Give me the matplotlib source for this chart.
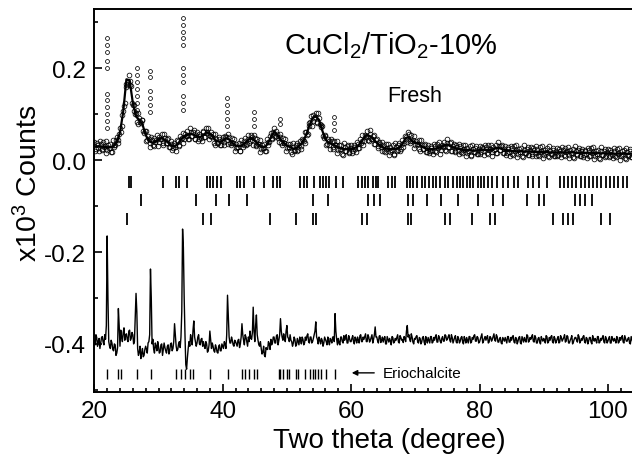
import numpy as np
import matplotlib
matplotlib.use("Agg")
import matplotlib.pyplot as plt
from matplotlib.ticker import MultipleLocator, FixedLocator

plt.rcParams['font.family'] = ['Liberation Sans', 'DejaVu Sans']
plt.rcParams['mathtext.fontset'] = 'custom'
plt.rcParams['mathtext.rm'] = 'Liberation Sans'
plt.rcParams['mathtext.it'] = 'Liberation Sans'
plt.rcParams['mathtext.default'] = 'regular'
plt.rcParams['axes.unicode_minus'] = False

# ---------------- data (values in thousandths of the y-axis unit) ----------------
# observed points, scan A: 0.25 degree steps from 20.000
obs_a = [
    39,25,33,19, 36,22,29,41, 22,26,36,17, 34,32,50,43, 69,75,108,124,
    166,170,172,162, 119,106,103,78, 92,81,88,59, 64,43,45,29, 44,31,40,54,
    39,45,56,34, 48,38,48,28, 41,26,33,21, 41,32,45,60, 46,52,63,45,
    62,53,65,46, 61,46,53,41, 61,50,60,71, 52,52,58,34, 46,38,50,34,
    51,40,51,36, 51,33,38,47, 26,29,38,19, 36,32,48,35, 54,42,51,34,
    48,30,35,44, 24,27,36,19, 39,39,60,49, 71,53,58,39, 51,33,38,47,
    26,28,36,14, 29,23,37,23, 41,31,43,37, 61,57,75,96, 86,92,103,80,
    92,73,75,48, 54,36,41,25, 41,25,32,42, 22,24,33,12, 28,21,34,17,
    33,20,29,17, 36,26,38,55, 42,50,63,42, 56,45,55,35, 47,30,35,19,
    33,18,25,36, 18,22,32,12, 29,23,38,24, 44,37,51,39, 56,38,42,52,
    32,35,44,21, 34,25,36,18, 33,19,27,13, 31,17,26,39, 22,28,40,21,
    38,29,40,21, 36,21,28,13, 30,15,22,34, 16,20,30,9, 25,18,31,14,
    31,17,26,11, 28,14,22,34, 17,22,34,15, 31,22,34,16, 31,16,24,9,
    26,12,20,32, 13,17,27,7, 23,16,29,12, 28,14,22,8, 24,10,18,30,
    12,16,26,6, 21,14,27,10, 26,12,20,6, 23,9,17,29, 11,15,25,5,
    20,13,26,9, 25,11,19,5, 22,8,16,28, 9,13,23,3, 19,12,25,8,
    24,10,18,4, 20,6,14,26, 8,12,22,2, 18,11,24,7,
]
# observed points, scan B: 0.25 degree steps from 20.125
obs_b = [
    21,37,27,41, 24,40,31,16, 33,27,18,43, 28,43,37,58, 61,99,117,159,
    163,185,163,125, 121,100,82,102, 82,87,64,63, 42,52,38,50, 32,49,43,30,
    51,46,37,58, 38,45,28,36, 22,37,28,44, 31,52,48,37, 58,53,46,70,
    53,61,46,55, 42,57,48,64, 50,69,61,45, 61,51,38,57, 37,46,32,44,
    34,53,44,57, 37,49,38,20, 36,29,20,44, 29,42,32,46, 37,54,43,54,
    34,46,35,18, 34,27,19,46, 34,52,45,62, 51,63,49,58, 37,49,38,20,
    36,28,17,38, 21,32,20,34, 25,45,41,62, 54,80,82,75, 98,93,83,103,
    78,76,52,53, 34,46,34,46, 28,42,33,16, 32,24,14,37, 20,30,16,27,
    15,32,24,40, 26,46,42,32, 55,52,44,66, 46,52,35,43, 27,40,28,39,
    20,35,26,11, 29,23,14,37, 21,33,21,36, 29,52,46,61, 42,54,43,26,
    42,35,24,44, 25,33,17,27, 15,31,21,35, 19,35,28,14, 34,30,22,46,
    29,37,21,30, 17,32,21,35, 17,32,24,9, 27,21,11,34, 17,27,13,24,
    13,29,19,33, 16,32,24,9, 28,24,16,40, 22,30,15,25, 12,28,17,31,
    14,30,22,7, 24,18,9,32, 15,25,11,22, 10,26,16,30, 12,28,20,5,
    23,17,8,31, 13,23,9,20, 8,24,14,28, 11,27,19,4, 22,16,7,30,
    12,22,8,19, 7,23,13,27, 10,26,18,3, 20,14,5,28, 11,21,7,18,
    6,22,12,26, 8,24,16,1, 19,13,4,27, 10,20,6,17,
]
obs_start, obs_step = 20.0, 0.25

# extra observed points on the narrow (sharp) peaks
spike_x = [21.95]*5 + [22.05]*6 + [26.6]*7 + [28.7]*6 + [33.75]*11 + [40.7]*5 + [44.8]*3 + [48.9]*2 + [57.3]*3
spike_y = [265,250,235,215,200, 145,130,115,100,85,70,
           200,185,170,155,140,125,110,
           195,180,150,135,120,105,
           310,295,280,265,250,200,185,170,140,125,110,
           135,120,105,90,75,
           105,90,75,
           90,78,
           95,80,65]

# calculated profile, 0.5 degree steps from 20.0
calc = [
    30,30,30,29,28,28,30,40,60,105,
    176,174,125,95,88,78,55,42,38,40,
    45,48,44,38,32,30,35,45,52,55,
    58,55,52,50,55,60,58,50,42,40,
    42,48,45,38,32,30,32,38,45,48,
    42,35,30,28,35,50,62,55,45,38,
    32,28,25,27,32,40,55,75,92,95,
    88,65,45,38,35,32,28,25,24,24,
    24,26,30,38,48,55,52,45,38,32,
    27,25,24,24,25,28,35,48,50,42,
    38,36,30,26,24,24,25,26,28,32,
    34,30,27,25,24,22,22,22,21,21,
    22,23,22,22,23,26,27,24,22,21,
    20,20,19,19,19,19,19,18,18,18,
    18,18,17,17,17,17,17,17,17,17,
    16,16,16,16,16,16,15,15,15,15,
    15,15,14,14,14,14,14,14,
]
calc_start, calc_step = 20.0, 0.5

# lower pattern (offset by -0.4), points at 20.000 + 0.25 i
diff_a = [
    -392,-380,-405,-388, -398,-384,-402,-390, -165,-395,-410,-398, -415,-402,-420,-323,
    -405,-385,-375,-392, -378,-395,-370,-388, -380,-395,-290,-410, -418,-432,-410,-425,
    -405,-420,-395,-237, -400,-412,-398,-415, -405,-418,-400,-412, -408,-420,-402,-415,
    -398,-410,-356,-405, -412,-395,-385,-150, -300,-445,-430,-395, -380,-402,-350,-395,
    -398,-380,-402,-388, -395,-410,-400,-415, -372,-410,-405,-418, -408,-420,-402,-415,
    -405,-395,-410,-294, -385,-398,-392,-405, -395,-405,-390,-400, -356,-392,-380,-395,
    -385,-372,-390,-320, -395,-337,-392,-405, -410,-418,-425,-408, -412,-400,-390,-398,
    -385,-398,-380,-392, -345,-385,-378,-395, -360,-388,-380,-395, -398,-390,-402,-395,
    -385,-400,-390,-398, -392,-378,-398,-385, -395,-380,-352,-390, -385,-400,-392,-398,
    -390,-402,-395,-388, -398,-385,-334,-390, -388,-402,-385,-398, -392,-380,-398,-388,
    -395,-382,-400,-390, -385,-398,-380,-395, -390,-378,-395,-385, -392,-380,-390,-363,
    -385,-398,-382,-392, -396,-384,-400,-390, -388,-402,-386,-396, -392,-380,-398,-386,
    -390,-384,-395,-360, -380,-395,-385,-400, -390,-382,-398,-388, -396,-384,-402,-390,
    -386,-398,-384,-396, -392,-380,-396,-386, -398,-384,-394,-382, -390,-380,-396,-386,
    -392,-382,-398,-388, -394,-384,-400,-390, -386,-398,-384,-396, -390,-380,-394,-386,
    -396,-384,-398,-388, -392,-382,-396,-386, -390,-378,-394,-384, -396,-386,-400,-390,
    -386,-398,-384,-396, -392,-382,-398,-388, -394,-384,-400,-390, -386,-396,-382,-394,
    -390,-380,-396,-386, -398,-386,-400,-390, -388,-398,-384,-396, -392,-382,-398,-388,
    -394,-384,-396,-386, -390,-380,-394,-384, -398,-388,-400,-390, -386,-396,-384,-394,
    -392,-382,-398,-388, -394,-386,-400,-390, -388,-398,-384,-396, -392,-382,-398,-388,
    -394,-384,-398,-390, -388,-398,-386,-396, -392,-382,-398,-388, -394,-386,-400,-390,
]
# lower pattern, points at 20.125 + 0.25 i
diff_b = [
    -402,-386,-394,-410, -386,-396,-380,-360, -300,-405,-392,-412, -400,-425,-408,-360,
    -370,-395,-365,-380, -390,-372,-392,-375, -400,-340,-330,-425, -405,-420,-428,-412,
    -412,-398,-380,-300, -390,-420,-405,-395, -420,-402,-425,-398, -415,-405,-422,-400,
    -415,-395,-380,-415, -400,-408,-330,-190, -380,-455,-410,-405, -392,-370,-385,-405,
    -385,-400,-390,-405, -405,-395,-418,-402, -390,-398,-415,-402, -418,-405,-415,-400,
    -410,-400,-380,-340, -398,-385,-402,-392, -400,-392,-408,-385, -380,-402,-385,-405,
    -395,-388,-375,-372, -360,-380,-402,-395, -422,-405,-428,-412, -395,-412,-402,-385,
    -398,-382,-402,-380, -372,-392,-388,-372, -385,-395,-392,-405, -385,-405,-388,-402,
    -392,-385,-402,-385, -382,-395,-385,-398, -388,-372,-385,-400, -392,-388,-405,-385,
    -395,-385,-402,-392, -385,-395,-372,-402, -398,-385,-395,-382, -385,-398,-382,-395,
    -388,-395,-385,-398, -392,-382,-395,-385, -384,-395,-380,-396, -386,-398,-380,-385,
    -393,-383,-397,-385, -388,-400,-384,-396, -394,-384,-398,-388, -386,-396,-382,-392,
    -397,-388,-372,-385, -390,-378,-396,-388, -384,-396,-386,-400, -386,-396,-384,-398,
    -392,-384,-398,-386, -384,-396,-382,-394, -388,-394,-380,-392, -384,-392,-380,-398,
    -386,-396,-384,-398, -386,-396,-384,-398, -392,-384,-398,-386, -382,-394,-384,-398,
    -390,-378,-394,-384, -386,-398,-384,-394, -384,-392,-380,-396, -388,-398,-386,-394,
    -392,-384,-396,-386, -384,-396,-386,-400, -386,-398,-384,-396, -392,-380,-396,-386,
    -384,-394,-382,-398, -388,-396,-384,-394, -392,-382,-398,-386, -384,-396,-384,-398,
    -388,-398,-382,-394, -386,-396,-382,-398, -392,-382,-396,-386, -392,-380,-398,-388,
    -384,-396,-386,-400, -386,-396,-382,-394, -392,-384,-398,-388, -386,-396,-384,-398,
    -388,-398,-384,-394, -392,-384,-398,-386, -386,-396,-382,-394, -388,-398,-384,-396,
]

# Bragg reflection positions (degrees)
bragg_row1 = [25.33, 25.7, 30.65, 32.7, 33.2, 34.4, 37.5, 38.0, 38.5, 39.1, 39.7,
              42.2, 42.7, 43.3, 44.8, 46.4, 47.9, 48.4, 48.9, 52.0, 52.6, 53.2,
              54.2, 55.2, 55.7, 56.1, 56.5, 57.6, 58.7, 61.1, 61.65, 62.2, 62.7,
              63.35, 63.9, 64.2, 65.8, 66.3, 66.8, 68.7, 69.2, 69.7, 70.2, 71.0,
              71.5, 72.2, 72.7, 73.3, 73.8, 74.6, 75.1, 75.9, 76.45, 76.95, 77.5,
              78.0, 78.5, 79.0, 79.7, 80.2, 80.7, 81.4, 81.9, 82.7, 83.7, 84.5,
              85.3, 86.05, 87.6, 88.4, 89.3, 90.5, 92.5, 93.2, 93.8, 94.4, 95.1,
              95.8, 96.4, 97.1, 97.7, 98.3, 99.0, 99.7, 100.3, 100.9, 101.6,
              102.3, 102.9]
bragg_row2 = [27.2, 35.85, 38.96, 41.0, 43.8, 54.0, 56.45, 62.7, 63.6, 64.5, 68.9,
              69.6, 71.9, 74.0, 76.6, 79.8, 82.1, 83.7, 87.4, 89.2, 90.1, 94.9,
              95.7, 96.4, 97.5]
bragg_row3 = [25.1, 36.9, 38.1, 47.4, 51.4, 54.0, 54.6, 61.65, 62.4, 68.9, 69.4,
              74.6, 75.4, 78.8, 81.6, 82.4, 91.5, 93.0, 93.8, 94.6, 99.0, 100.3]
bragg_erio = [22.03, 23.74, 24.1, 26.6, 28.8, 32.7, 33.45, 34.1, 34.9, 35.4, 38.0,
              40.9, 42.96, 43.5, 44.15, 44.8, 45.3, 48.7, 49.0, 49.45, 49.97, 50.3,
              51.4, 51.7, 52.8, 53.6, 54.0, 54.4, 54.9, 55.3, 56.1, 57.5]

x_ticks = [20, 40, 60, 80, 100]
y_ticks = [-0.4, -0.2, 0.0, 0.2]
y_tick_labels = ['-0.4', '-0.2', '0.0', '0.2']

# ---------------- figure ----------------
W, H = 632, 460
fig = plt.figure(figsize=(W/100, H/100), dpi=100)
ax = fig.add_axes([94.3/W, (H-392.7)/H, (W-94.3)/W, (392.7-10)/H])

s = 1/1000.0
xa = obs_start + obs_step*np.arange(len(obs_a))
xb = obs_start + obs_step/2 + obs_step*np.arange(len(obs_b))
cx = calc_start + calc_step*np.arange(len(calc))
dx = np.column_stack([xa[:len(diff_a)], xb[:len(diff_b)]]).ravel()
dy = np.column_stack([diff_a, diff_b]).ravel()*s

mk = dict(ls='none', marker='o', mfc='none', mec='black', mew=0.55)
ax.plot(xa, np.array(obs_a)*s, ms=3.4, **mk)
ax.plot(xb, np.array(obs_b)*s, ms=3.4, **mk)
ax.plot(spike_x, np.array(spike_y)*s, ms=2.8, **mk)
ax.plot(cx, np.array(calc)*s, color='black', lw=1.6)
ax.plot(dx, dy, color='black', lw=1.0)

ax.vlines(bragg_row1, -0.061, -0.035, color='black', lw=1.3)
ax.vlines(bragg_row2, -0.100, -0.074, color='black', lw=1.3)
ax.vlines(bragg_row3, -0.141, -0.115, color='black', lw=1.3)
ax.vlines(bragg_erio, -0.476, -0.455, color='black', lw=1.0)

ax.annotate('', xy=(60.1, -0.463), xytext=(63.6, -0.463),
            arrowprops=dict(arrowstyle='-|>', color='black', lw=1.0,
                            mutation_scale=8, shrinkA=0, shrinkB=0))
ax.text(65.0, -0.463, 'Eriochalcite', fontsize=11, va='center', ha='left')

ax.text(49.6, 0.251, r'CuCl$_2$/TiO$_2$-10%', fontsize=21, va='center', ha='left')
ax.text(69.9, 0.140, 'Fresh', fontsize=15.5, va='center', ha='center')

ax.set_xlim(20, 20 + (W-94.3)/6.42)
ax.set_ylim(-0.504, 0.329)

ax.xaxis.set_major_locator(FixedLocator(x_ticks))
ax.xaxis.set_minor_locator(MultipleLocator(2))
ax.yaxis.set_major_locator(FixedLocator(y_ticks))
ax.set_yticklabels(y_tick_labels)
ax.yaxis.set_minor_locator(MultipleLocator(0.1))

ax.tick_params(which='both', direction='in', top=False, right=False, width=1.2)
ax.tick_params(which='major', length=5.5, labelsize=17.5, pad=6)
ax.tick_params(which='minor', length=3)

for sp in ['left', 'bottom', 'top']:
    ax.spines[sp].set_linewidth(1.4)
ax.spines['right'].set_visible(False)

ax.set_xlabel('Two theta (degree)', fontsize=20)
ax.set_ylabel(r'x10$^3$ Counts', fontsize=20.5)
ax.xaxis.set_label_coords(0.548, -0.092)
ax.yaxis.set_label_coords(-0.095, 0.548)

fig.savefig('out.png', dpi=100)
